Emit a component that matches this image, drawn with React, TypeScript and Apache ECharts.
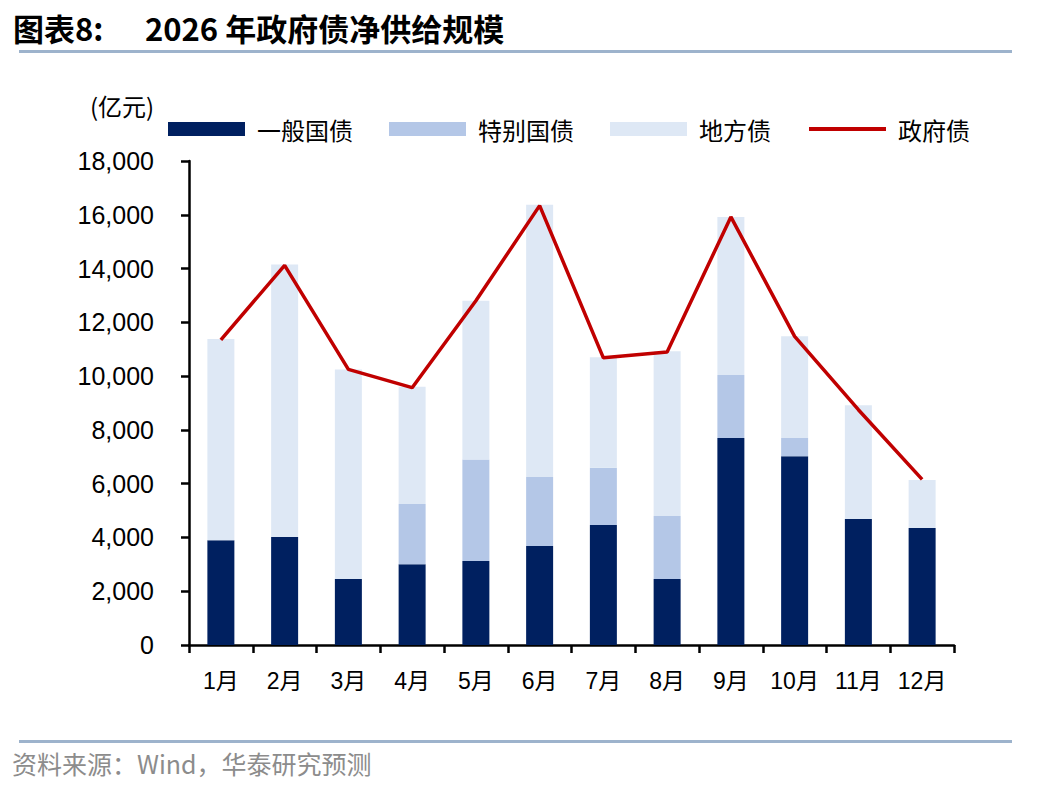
import React, { useEffect, useRef } from "react";
import * as echarts from "echarts";

const months = ["1月", "2月", "3月", "4月", "5月", "6月", "7月", "8月", "9月", "10月", "11月", "12月"];
const generalBonds = [3900, 4020, 2450, 3000, 3120, 3680, 4460, 2450, 7700, 7020, 4690, 4350];
const specialBonds = [0, 0, 0, 2240, 3780, 2570, 2130, 2350, 2340, 680, 0, 0];
const localBonds = [7480, 10130, 7800, 4360, 5900, 10120, 4110, 6120, 5880, 3780, 4230, 1790];
const governmentBonds = [11350, 14120, 10250, 9570, 12800, 16340, 10680, 10900, 15920, 11480, 8750, 6160];
const seriesNames = ["一般国债", "特别国债", "地方债", "政府债"];

const LATIN = "'Liberation Sans', Arial, 'Noto Sans CJK SC', sans-serif";
const CJK = "'Noto Sans CJK SC', 'Liberation Sans', sans-serif";

export default function App() {
  const ref = useRef<HTMLDivElement>(null);
  useEffect(() => {
    document.body.style.margin = "0";
    if (!ref.current) return;
    const chart = echarts.init(ref.current, undefined, { renderer: "svg" });
    chart.setOption({
      animation: false,
      backgroundColor: "#ffffff",
      grid: { left: 189, right: 94, top: 161, bottom: 147, containLabel: false },
      legend: {
        left: 163,
        top: 112,
        itemWidth: 77,
        itemHeight: 14,
        itemGap: 36,
        textStyle: { fontSize: 24, color: "#000", fontFamily: CJK, padding: [0, 0, 0, 7] },
        data: [
          { name: seriesNames[0], icon: "rect" },
          { name: seriesNames[1], icon: "rect" },
          { name: seriesNames[2], icon: "rect" },
          {
            name: seriesNames[3],
            itemStyle: { opacity: 0, color: "transparent", borderWidth: 0 },
            lineStyle: { width: 4, color: "#c00000" },
          },
        ],
      },
      xAxis: {
        type: "category",
        data: months,
        axisLine: { lineStyle: { color: "#000", width: 2.5 } },
        axisTick: { show: true, length: 8, lineStyle: { color: "#000", width: 2.5 } },
        axisLabel: { fontSize: 23, color: "#000", fontFamily: LATIN, margin: 24 },
      },
      yAxis: {
        type: "value",
        min: 0,
        max: 18000,
        interval: 2000,
        splitLine: { show: false },
        axisLine: { show: true, lineStyle: { color: "#000", width: 2.5 } },
        axisTick: { show: true, length: 8, lineStyle: { color: "#000", width: 2.5 } },
        axisLabel: {
          fontSize: 25,
          color: "#000",
          fontFamily: LATIN,
          margin: 35,
          formatter: (v: number) => v.toLocaleString("en-US"),
        },
      },
      graphic: [
        {
          type: "text",
          left: 13,
          top: 12,
          style: { text: "图表8:", fontSize: 31, fontWeight: "bold", fill: "#000", fontFamily: CJK },
        },
        {
          type: "text",
          left: 145,
          top: 12,
          style: { text: "2026 年政府债净供给规模", fontSize: 31, fontWeight: "bold", fill: "#000", fontFamily: CJK },
        },
        {
          type: "rect",
          shape: { x: 19, y: 50, width: 993, height: 3 },
          style: { fill: "#9db3cc" },
        },
        {
          type: "text",
          left: 90,
          top: 93,
          style: { text: "(亿元)", fontSize: 24, fill: "#000", fontFamily: CJK },
        },
        {
          type: "rect",
          shape: { x: 19, y: 740, width: 993, height: 3 },
          style: { fill: "#9db3cc" },
        },
        {
          type: "text",
          left: 12,
          top: 750,
          style: { text: "资料来源：Wind，华泰研究预测", fontSize: 25, fill: "#8c8c8c", fontFamily: CJK },
        },
      ],
      series: [
        {
          name: seriesNames[0],
          type: "bar",
          stack: "total",
          barWidth: 27,
          itemStyle: { color: "#002060" },
          data: generalBonds,
        },
        {
          name: seriesNames[1],
          type: "bar",
          stack: "total",
          barWidth: 27,
          itemStyle: { color: "#b4c7e7" },
          data: specialBonds,
        },
        {
          name: seriesNames[2],
          type: "bar",
          stack: "total",
          barWidth: 27,
          itemStyle: { color: "#dee8f5" },
          data: localBonds,
        },
        {
          name: seriesNames[3],
          type: "line",
          symbol: "none",
          z: 5,
          lineStyle: { color: "#c00000", width: 3.5 },
          itemStyle: { color: "#c00000" },
          data: governmentBonds,
        },
      ],
    });
    return () => chart.dispose();
  }, []);
  return (
    <div
      ref={ref}
      style={{ position: "absolute", left: 0, top: 0, width: 1048, height: 792 }}
    />
  );
}
